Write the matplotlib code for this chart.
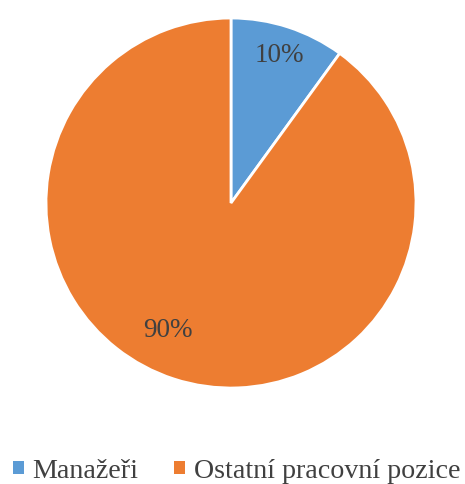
import matplotlib
matplotlib.use('agg')
from matplotlib import pyplot as plt
from matplotlib.patches import Patch

labels = ['Manažeři', 'Ostatní pracovní pozice']
shares = [10, 90]
colors = ['#5B9BD5', '#ED7D31']

plt.rcParams['font.family'] = ['Liberation Serif', 'DejaVu Serif']

fig = plt.figure(figsize=(4.65, 4.84), dpi=100)
ax = fig.add_axes([0.0989, 0.1983, 0.7957, 0.7645])

wedges, texts, autotexts = ax.pie(
    shares, colors=colors, startangle=90, counterclock=False,
    autopct='%d%%', pctdistance=0.84, radius=1,
    wedgeprops=dict(edgecolor='white', linewidth=2),
    textprops=dict(color='#404040', fontsize=19.5))
# Nudge the large-slice label toward the lower left
autotexts[1].set_position((-0.34, -0.69))
ax.set_xlim(-1, 1)
ax.set_ylim(-1, 1)
ax.set_aspect('equal')

handles = [Patch(facecolor=c, edgecolor='none') for c in colors]
fig.legend(handles, labels, loc='center', bbox_to_anchor=(0.5 + 4 / 465, 1 - 471 / 484),
           ncol=2, frameon=False, fontsize=20.2, handlelength=0.38, handleheight=0.3,
           handletextpad=0.3, columnspacing=1.3, labelcolor='#404040',
           borderpad=0, borderaxespad=0)

fig.savefig('out.png', dpi=100)
